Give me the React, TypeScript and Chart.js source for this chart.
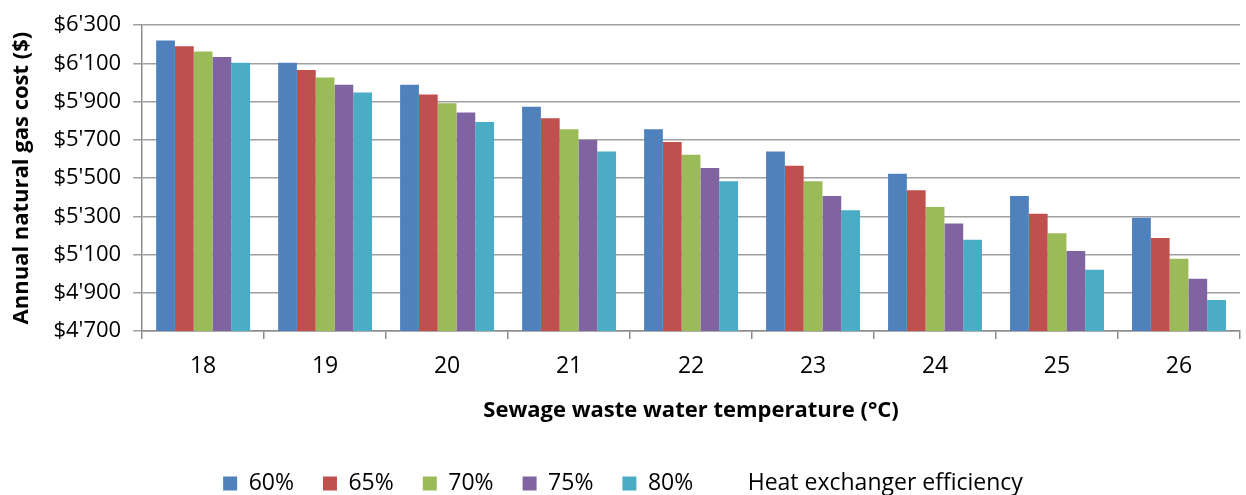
import React, { useEffect, useRef } from "react";
import { Chart, registerables } from "chart.js";

Chart.register(...registerables);

const categories = ["18", "19", "20", "21", "22", "23", "24", "25", "26"];
const seriesLabels = ["60%", "65%", "70%", "75%", "80%"];
const eff60 = [6220, 6103, 5988, 5873, 5756, 5639, 5523, 5406, 5293];
const eff65 = [6190, 6065, 5938, 5813, 5689, 5564, 5437, 5313, 5186];
const eff70 = [6163, 6027, 5892, 5756, 5622, 5483, 5349, 5212, 5078];
const eff75 = [6134, 5988, 5843, 5699, 5553, 5406, 5262, 5118, 4973];
const eff80 = [6103, 5948, 5794, 5639, 5483, 5332, 5177, 5021, 4862];
const colors = ["#4F81BD", "#C0504D", "#9BBB59", "#8064A2", "#4BACC6"];
const legendNote = "Heat exchanger efficiency";
const yTitle = "Annual natural gas cost ($)";
const xTitle = "Sewage waste water temperature (°C)";

const FONT = "'Open Sans', 'Liberation Sans', sans-serif";

function fmt(v: number): string {
  const th = Math.floor(v / 1000);
  const rest = String(Math.round(v % 1000)).padStart(3, "0");
  return `$${th}'${rest}`;
}

export default function App() {
  const ref = useRef<HTMLCanvasElement | null>(null);

  useEffect(() => {
    if (!ref.current) return;
    const values = [eff60, eff65, eff70, eff75, eff80];
    const datasets: any[] = values.map((d, i) => ({
      type: "bar",
      label: seriesLabels[i],
      data: d,
      backgroundColor: colors[i],
      borderWidth: 0,
      categoryPercentage: 0.77,
      barPercentage: 1.0,
    }));
    datasets.push({
      type: "line",
      label: legendNote,
      data: [],
      backgroundColor: "rgba(0,0,0,0)",
      borderColor: "rgba(0,0,0,0)",
      borderWidth: 0,
      pointRadius: 0,
    });
    const chart = new Chart(ref.current, {
      type: "bar",
      data: { labels: categories, datasets },
      options: {
        animation: false,
        responsive: true,
        maintainAspectRatio: false,
        layout: { padding: { top: 2, right: 6, left: 6, bottom: -10 } },
        plugins: {
          tooltip: { enabled: false },
          legend: {
            position: "bottom",
            labels: {
              color: "#000",
              font: { family: FONT, size: 23 },
              boxWidth: 14,
              boxHeight: 14,
              padding: 29,
            },
          },
        },
        scales: {
          x: {
            grid: {
              offset: true,
              drawOnChartArea: false,
              drawTicks: true,
              tickLength: 8,
              color: "#8c8c8c",
              lineWidth: 1.5,
            },
            border: { color: "#8c8c8c", width: 1.5 },
            ticks: {
              color: "#000",
              font: { family: FONT, size: 23 },
              padding: 14,
            },
            title: {
              display: true,
              text: xTitle,
              color: "#000",
              font: { family: FONT, size: 22, weight: "bold" },
              padding: { top: 3, bottom: 19 },
            },
          },
          y: {
            min: 4700,
            max: 6300,
            ticks: {
              stepSize: 200,
              color: "#000",
              font: { family: FONT, size: 22 },
              padding: 12,
              callback: (v: any) => fmt(Number(v)),
            },
            grid: {
              color: "#a0a0a0",
              lineWidth: 1.5,
              tickLength: 9,
            },
            border: { color: "#8c8c8c", width: 1.5 },
            title: {
              display: true,
              text: yTitle,
              color: "#000",
              font: { family: FONT, size: 22, weight: "bold" },
              padding: { top: 3, bottom: 6 },
            },
          },
        },
      },
    });
    return () => chart.destroy();
  }, []);

  return (
    <div style={{ position: "fixed", left: 0, top: 0, width: 1246, height: 495, background: "#fff" }}>
      <canvas ref={ref} />
    </div>
  );
}
